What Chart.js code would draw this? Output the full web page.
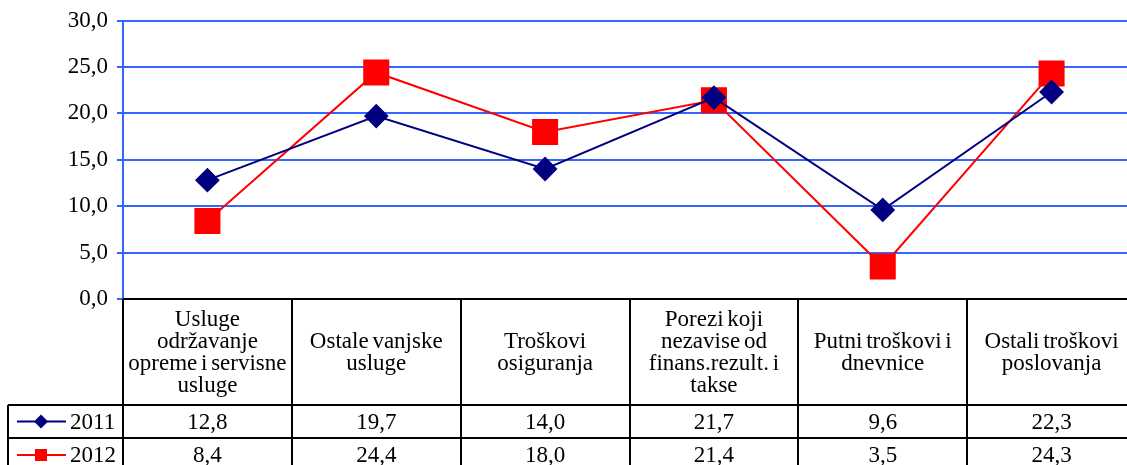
<!DOCTYPE html>
<html>
<head>
<meta charset="utf-8">
<script src="https://cdn.jsdelivr.net/npm/chart.js@4/dist/chart.umd.min.js"></script>
<style>
  html, body { margin: 0; padding: 0; background: #fff; overflow: hidden; }
  #wrap { width: 1155px; height: 465px; }
</style>
</head>
<body>
<div id="wrap"><canvas id="chart" width="1155" height="465"></canvas></div>
<script>
const categories = [
    ['Usluge', 'održavanje', 'opreme i servisne', 'usluge'],
    ['Ostale vanjske', 'usluge'],
    ['Troškovi', 'osiguranja'],
    ['Porezi koji', 'nezavise od', 'finans.rezult. i', 'takse'],
    ['Putni troškovi i', 'dnevnice'],
    ['Ostali troškovi', 'poslovanja']
];
const seriesNames = ['2011', '2012'];
const values2011 = [12.8, 19.7, 14.0, 21.7, 9.6, 22.3];
const values2012 = [8.4, 24.4, 18.0, 21.4, 3.5, 24.3];

const NAVY = '#000080';
const RED = '#ff0000';
const GRID = '#3366ff';
const FONT = '"Liberation Serif", "Times New Roman", serif';

const fmt = v => v.toFixed(1).replace('.', ',');

// draws the data table under the plot
const tablePlugin = {
    id: 'dataTable',
    afterDraw(chart) {
        const ctx = chart.ctx;
        const area = chart.chartArea;
        const x = chart.scales.x;
        const colW = x.getPixelForValue(1) - x.getPixelForValue(0);
        const top = area.bottom;
        const headBottom = 405;
        const row1 = 438;
        const bottom = chart.height + 5;
        const legLeft = 8;

        ctx.save();
        ctx.strokeStyle = '#000';
        ctx.lineWidth = 2;
        ctx.beginPath();
        ctx.moveTo(area.left, top); ctx.lineTo(chart.width, top);
        ctx.moveTo(legLeft, headBottom); ctx.lineTo(chart.width, headBottom);
        ctx.moveTo(legLeft, row1); ctx.lineTo(chart.width, row1);
        ctx.moveTo(legLeft, headBottom); ctx.lineTo(legLeft, bottom);
        for (let i = 0; i <= categories.length; i++) {
            const px = Math.round(x.getPixelForValue(i) - colW / 2);
            ctx.moveTo(px, top); ctx.lineTo(px, bottom);
        }
        ctx.stroke();

        ctx.fillStyle = '#000';
        ctx.font = '23px ' + FONT;
        ctx.wordSpacing = '-2px';
        ctx.textAlign = 'center';
        ctx.textBaseline = 'middle';
        const lineH = 22;
        const headMid = 353;
        categories.forEach((lines, i) => {
            const cx = x.getPixelForValue(i);
            const y0 = headMid - (lines.length - 1) * lineH / 2;
            lines.forEach((t, j) => ctx.fillText(t, cx, y0 + j * lineH));
            ctx.fillText(fmt(values2011[i]), cx, (headBottom + row1) / 2 + 1);
            ctx.fillText(fmt(values2012[i]), cx, row1 + 18);
        });

        // legend keys
        const rows = [
            { y: (headBottom + row1) / 2, color: NAVY, shape: 'diamond' },
            { y: row1 + 17, color: RED, shape: 'square' }
        ];
        rows.forEach((r, k) => {
            ctx.strokeStyle = r.color;
            ctx.fillStyle = r.color;
            ctx.lineWidth = 2;
            ctx.beginPath();
            ctx.moveTo(17, r.y); ctx.lineTo(66, r.y);
            ctx.stroke();
            ctx.beginPath();
            if (r.shape === 'diamond') {
                ctx.moveTo(41, r.y - 7); ctx.lineTo(48, r.y);
                ctx.lineTo(41, r.y + 7); ctx.lineTo(34, r.y);
                ctx.closePath();
            } else {
                ctx.rect(35, r.y - 6, 12, 12);
            }
            ctx.fill();
            ctx.fillStyle = '#000';
            ctx.textAlign = 'left';
            ctx.fillText(seriesNames[k], 70, r.y + 1);
            ctx.textAlign = 'center';
        });
        ctx.restore();
    }
};

new Chart(document.getElementById('chart'), {
    type: 'line',
    data: {
        labels: categories.map(c => c.join(' ')),
        datasets: [
            {
                label: seriesNames[0],
                data: values2011,
                borderColor: NAVY,
                backgroundColor: NAVY,
                borderWidth: 2,
                pointStyle: 'rectRot',
                pointRadius: 11,
                pointHoverRadius: 11,
                tension: 0
            },
            {
                label: seriesNames[1],
                data: values2012,
                borderColor: RED,
                backgroundColor: RED,
                borderWidth: 2,
                pointStyle: 'rect',
                pointRadius: 17,
                pointHoverRadius: 17,
                tension: 0
            }
        ]
    },
    options: {
        responsive: false,
        animation: false,
        layout: { padding: { top: 20, bottom: 166, right: 0, left: 0 } },
        plugins: { legend: { display: false }, tooltip: { enabled: false } },
        scales: {
            x: {
                display: false,
                offset: true
            },
            y: {
                min: 0,
                max: 30,
                afterFit(scale) { scale.width = 123; },
                border: { color: GRID, width: 2 },
                grid: { color: GRID, lineWidth: 2, tickLength: 6, tickColor: GRID },
                ticks: {
                    stepSize: 5,
                    padding: 9,
                    color: '#000',
                    font: { family: FONT, size: 23, lineHeight: 1 },
                    callback: v => fmt(v)
                }
            }
        }
    },
    plugins: [tablePlugin]
});
</script>
</body>
</html>
